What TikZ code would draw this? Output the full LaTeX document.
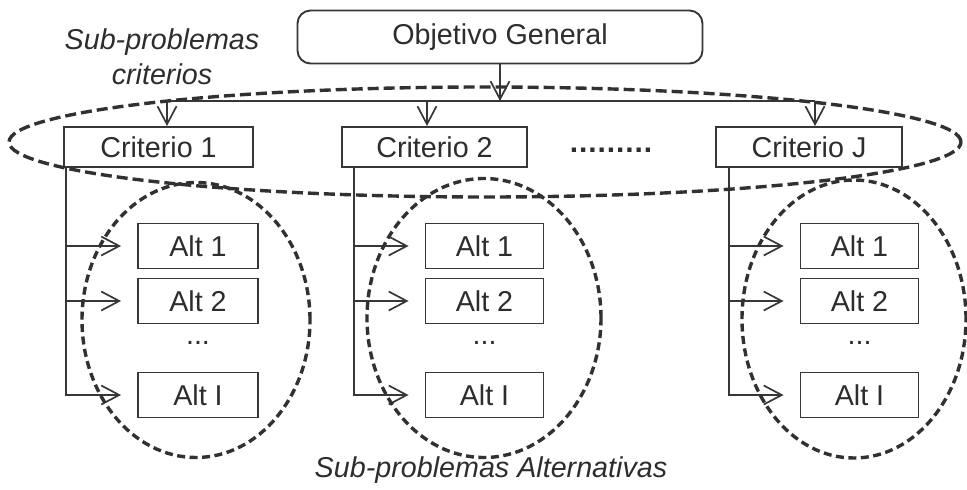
\documentclass[tikz,border=0pt]{standalone}
\usepackage{fontspec}
\setmainfont{Liberation Sans}
\usetikzlibrary{arrows.meta,shapes.geometric,calc}
\definecolor{ink}{RGB}{55,55,55}
\definecolor{txt}{RGB}{45,45,45}
\begin{document}
\begin{tikzpicture}[x=1pt,y=-1pt,
  every node/.style={font=\fontsize{28.7}{34}\selectfont, text=txt, inner sep=0pt},
  box/.style={draw=ink, line width=1.9pt, rectangle, minimum height=45pt, minimum width=118pt},
  critbox/.style={draw=ink, line width=1.9pt, rectangle, minimum height=40pt},
  conn/.style={draw=ink, line width=1.7pt},
  arr/.style={conn, -{Straight Barb[length=18pt,width=19pt]}},
  dell/.style={draw=ink!90!black, line width=3.4pt, ellipse, dash pattern=on 8pt off 4.5pt},
  bell/.style={draw=ink!90!black, line width=3.4pt, ellipse, dash pattern=on 11pt off 5pt},
  lbl/.style={font=\fontsize{28.7}{35}\itshape\selectfont, align=center}
]
\useasboundingbox (0,0) rectangle (967,490);

% top box
\node[draw=ink, line width=1.9pt, rounded corners=13pt, minimum width=405pt, minimum height=53pt] (obj) at (500,37) {Objetivo General};

% criteria
\node[critbox, minimum width=189pt] (c1) at (158.5,147) {Criterio 1};
\node[critbox, minimum width=185pt] (c2) at (434.5,147) {Criterio 2};
\node[critbox, minimum width=186pt] (cJ) at (809,147) {Criterio J};
\node[font=\fontsize{30}{34}\bfseries\selectfont\addfontfeature{LetterSpace=3}] (dots) at (611,150) {.........};

% bus
\coordinate (bus) at (500,101);
\coordinate (b1) at (167,101);
\coordinate (b2) at (427,101);
\coordinate (bJ) at (815,101);
\draw[arr] (obj.south -| bus) -- (bus);
\draw[conn] (b1) -- (bJ);
\draw[arr] (b1) -- (b1 |- c1.north);
\draw[arr] (b2) -- (b2 |- c2.north);
\draw[arr] (bJ) -- (bJ |- cJ.north);

% alternatives column 1
\node[box, minimum width=120pt] (a11) at (198,246) {Alt 1};
\node[box, minimum width=120pt] (a12) at (198,301) {Alt 2};
\node (a1d) at (198,343) {...};
\node[box, minimum width=120pt] (a1I) at (198,395) {Alt I};
% column 2
\node[box] (a21) at (484.5,246) {Alt 1};
\node[box] (a22) at (484.5,301) {Alt 2};
\node (a2d) at (484.5,343) {...};
\node[box] (a2I) at (484.5,395) {Alt I};
% column J
\node[box] (aJ1) at (859.5,246) {Alt 1};
\node[box] (aJ2) at (859.5,301) {Alt 2};
\node (aJd) at (859.5,343) {...};
\node[box] (aJI) at (859.5,395) {Alt I};

% branch lines
\coordinate (v1) at (66,167);
\coordinate (v2) at (354,167);
\coordinate (vJ) at (729,167);
\foreach \v/\c in {v1/1, v2/2, vJ/J}{
  \draw[arr, shorten >=16pt] (\v) |- (a\c I.west);
  \draw[arr, shorten >=16pt] (a\c 1.west -| \v) -- (a\c 1.west);
  \draw[arr, shorten >=16pt] (a\c 2.west -| \v) -- (a\c 2.west);
}

% dashed groupings
\node[bell, minimum width=952pt, minimum height=110pt] (eb) at (485,142) {};
\node[dell, minimum width=228pt, minimum height=275pt] (e1) at (196,320) {};
\node[dell, minimum width=234pt, minimum height=279pt] (e2) at (484,318) {};
\node[dell, minimum width=224pt, minimum height=278pt] (eJ) at (854,319) {};

% labels
\node[lbl] (lcrit) at (162,57) {Sub-problemas\\criterios};
\node[lbl] (lalt) at (491,470) {Sub-problemas Alternativas};
\end{tikzpicture}
\end{document}
